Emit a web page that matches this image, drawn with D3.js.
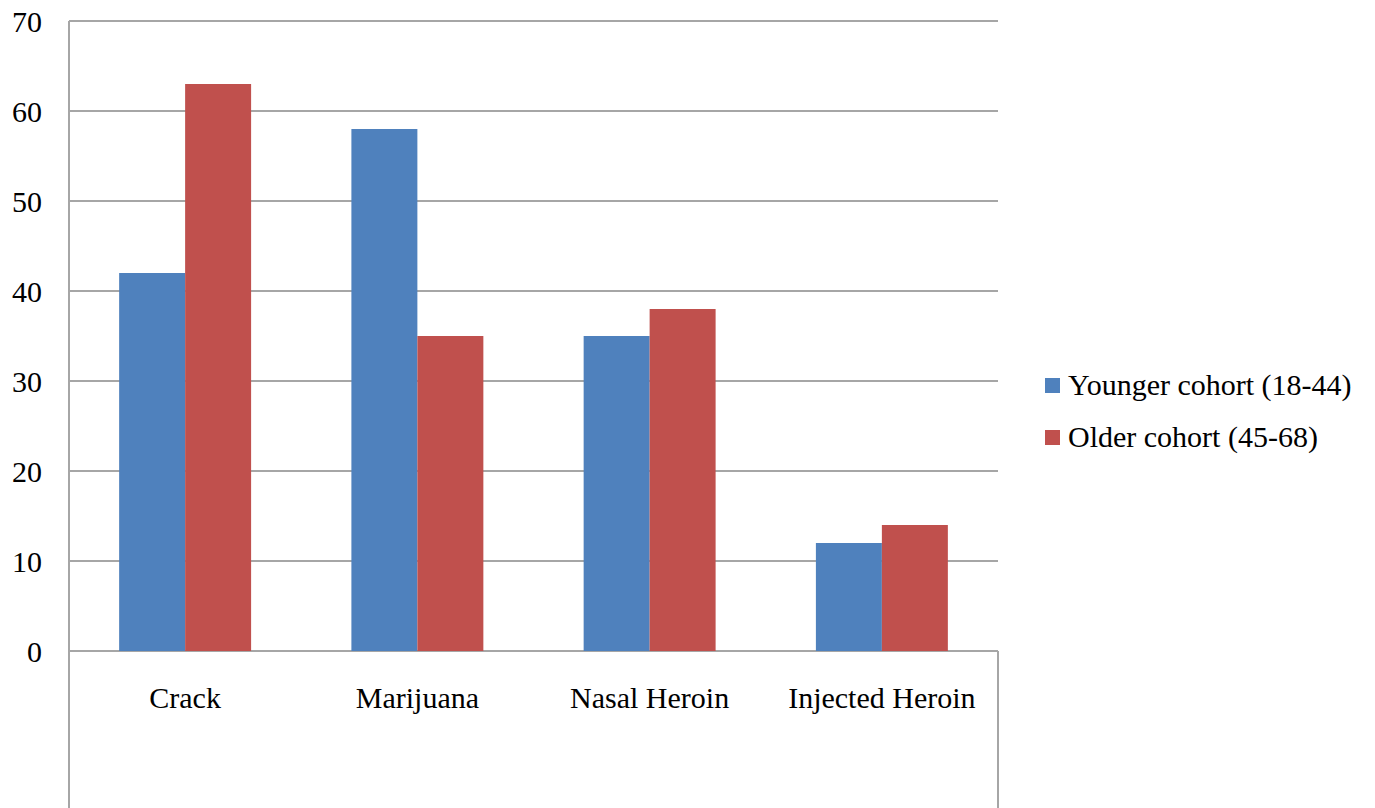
<!DOCTYPE html>
<html>
<head>
<meta charset="utf-8">
<script src="https://cdn.jsdelivr.net/npm/d3@7"></script>
<style>
  body { margin: 0; background: #fff; }
</style>
</head>
<body>
<script>
var categories = ["Crack", "Marijuana", "Nasal Heroin", "Injected Heroin"];
var seriesNames = ["Younger cohort (18-44)", "Older cohort (45-68)"];
var younger = [42, 58, 35, 12];
var older = [63, 35, 38, 14];
var yTicks = [0, 10, 20, 30, 40, 50, 60, 70];
var colors = ["#4f81bd", "#c0504d"];

var width = 1375, height = 808;
var margin = {top: 21, left: 69, right: 377, bottom: 157};
var innerWidth = width - margin.left - margin.right;
var innerHeight = height - margin.top - margin.bottom;
var serif = "'Liberation Serif'";

var data = categories.map((c, i) => ({cat: c, values: [younger[i], older[i]]}));

var svg = d3.select("body").append("svg")
    .attr("width", width)
    .attr("height", height);

var g = svg.append("g")
    .attr("transform", "translate(" + margin.left + "," + margin.top + ")");

// Scales
var x = d3.scaleBand()
    .domain(categories)
    .range([0, innerWidth])
    .padding(0);

var xs = d3.scaleBand()
    .domain([0, 1])
    .range([0, x.bandwidth()])
    .paddingInner(0)
    .paddingOuter(0.76);

var y = d3.scaleLinear()
    .domain([0, 70])
    .range([innerHeight, 0]);

// Gridlines
g.selectAll(".grid")
    .data(yTicks)
    .enter()
    .append("line")
        .attr("class", "grid")
        .attr("x1", 0)
        .attr("x2", innerWidth)
        .attr("y1", d => y(d))
        .attr("y2", d => y(d))
        .attr("stroke", "#a6a6a6")
        .attr("stroke-width", 2);

// Bars
var groups = g.selectAll(".cat")
    .data(data)
    .enter()
    .append("g")
        .attr("class", "cat")
        .attr("transform", d => "translate(" + x(d.cat) + ",0)");

groups.selectAll("rect")
    .data(d => d.values)
    .enter()
    .append("rect")
        .attr("x", (d, i) => xs(i))
        .attr("width", xs.bandwidth())
        .attr("y", d => y(d))
        .attr("height", d => innerHeight - y(d))
        .attr("fill", (d, i) => colors[i]);

// Axis lines (left axis and box below the category axis)
g.append("line")
    .attr("x1", 0).attr("x2", 0)
    .attr("y1", 0).attr("y2", height)
    .attr("stroke", "#a6a6a6")
    .attr("stroke-width", 2);
g.append("line")
    .attr("x1", innerWidth).attr("x2", innerWidth)
    .attr("y1", innerHeight).attr("y2", height)
    .attr("stroke", "#a6a6a6")
    .attr("stroke-width", 2);

// Y tick labels
g.selectAll(".ylab")
    .data(yTicks)
    .enter()
    .append("text")
        .attr("class", "ylab")
        .attr("x", -27)
        .attr("y", d => y(d))
        .attr("dy", "0.35em")
        .attr("text-anchor", "end")
        .style("font-family", serif)
        .style("font-size", "30px")
        .text(d => d);

// Category labels
g.selectAll(".xlab")
    .data(categories)
    .enter()
    .append("text")
        .attr("class", "xlab")
        .attr("x", d => x(d) + x.bandwidth() / 2)
        .attr("y", innerHeight + 46)
        .attr("dy", "0.35em")
        .attr("text-anchor", "middle")
        .style("font-family", serif)
        .style("font-size", "30px")
        .text(d => d);

// Legend
var legend = svg.append("g")
    .attr("transform", "translate(1045,385)");

var items = legend.selectAll(".item")
    .data(seriesNames)
    .enter()
    .append("g")
        .attr("class", "item")
        .attr("transform", (d, i) => "translate(0," + (i * 52) + ")");

items.append("rect")
    .attr("x", 0)
    .attr("y", -7)
    .attr("width", 15)
    .attr("height", 15)
    .attr("fill", (d, i) => colors[i]);

items.append("text")
    .attr("x", 23)
    .attr("y", 0)
    .attr("dy", "0.33em")
    .style("font-family", serif)
    .style("font-size", "30px")
    .text(d => d);
</script>
</body>
</html>
